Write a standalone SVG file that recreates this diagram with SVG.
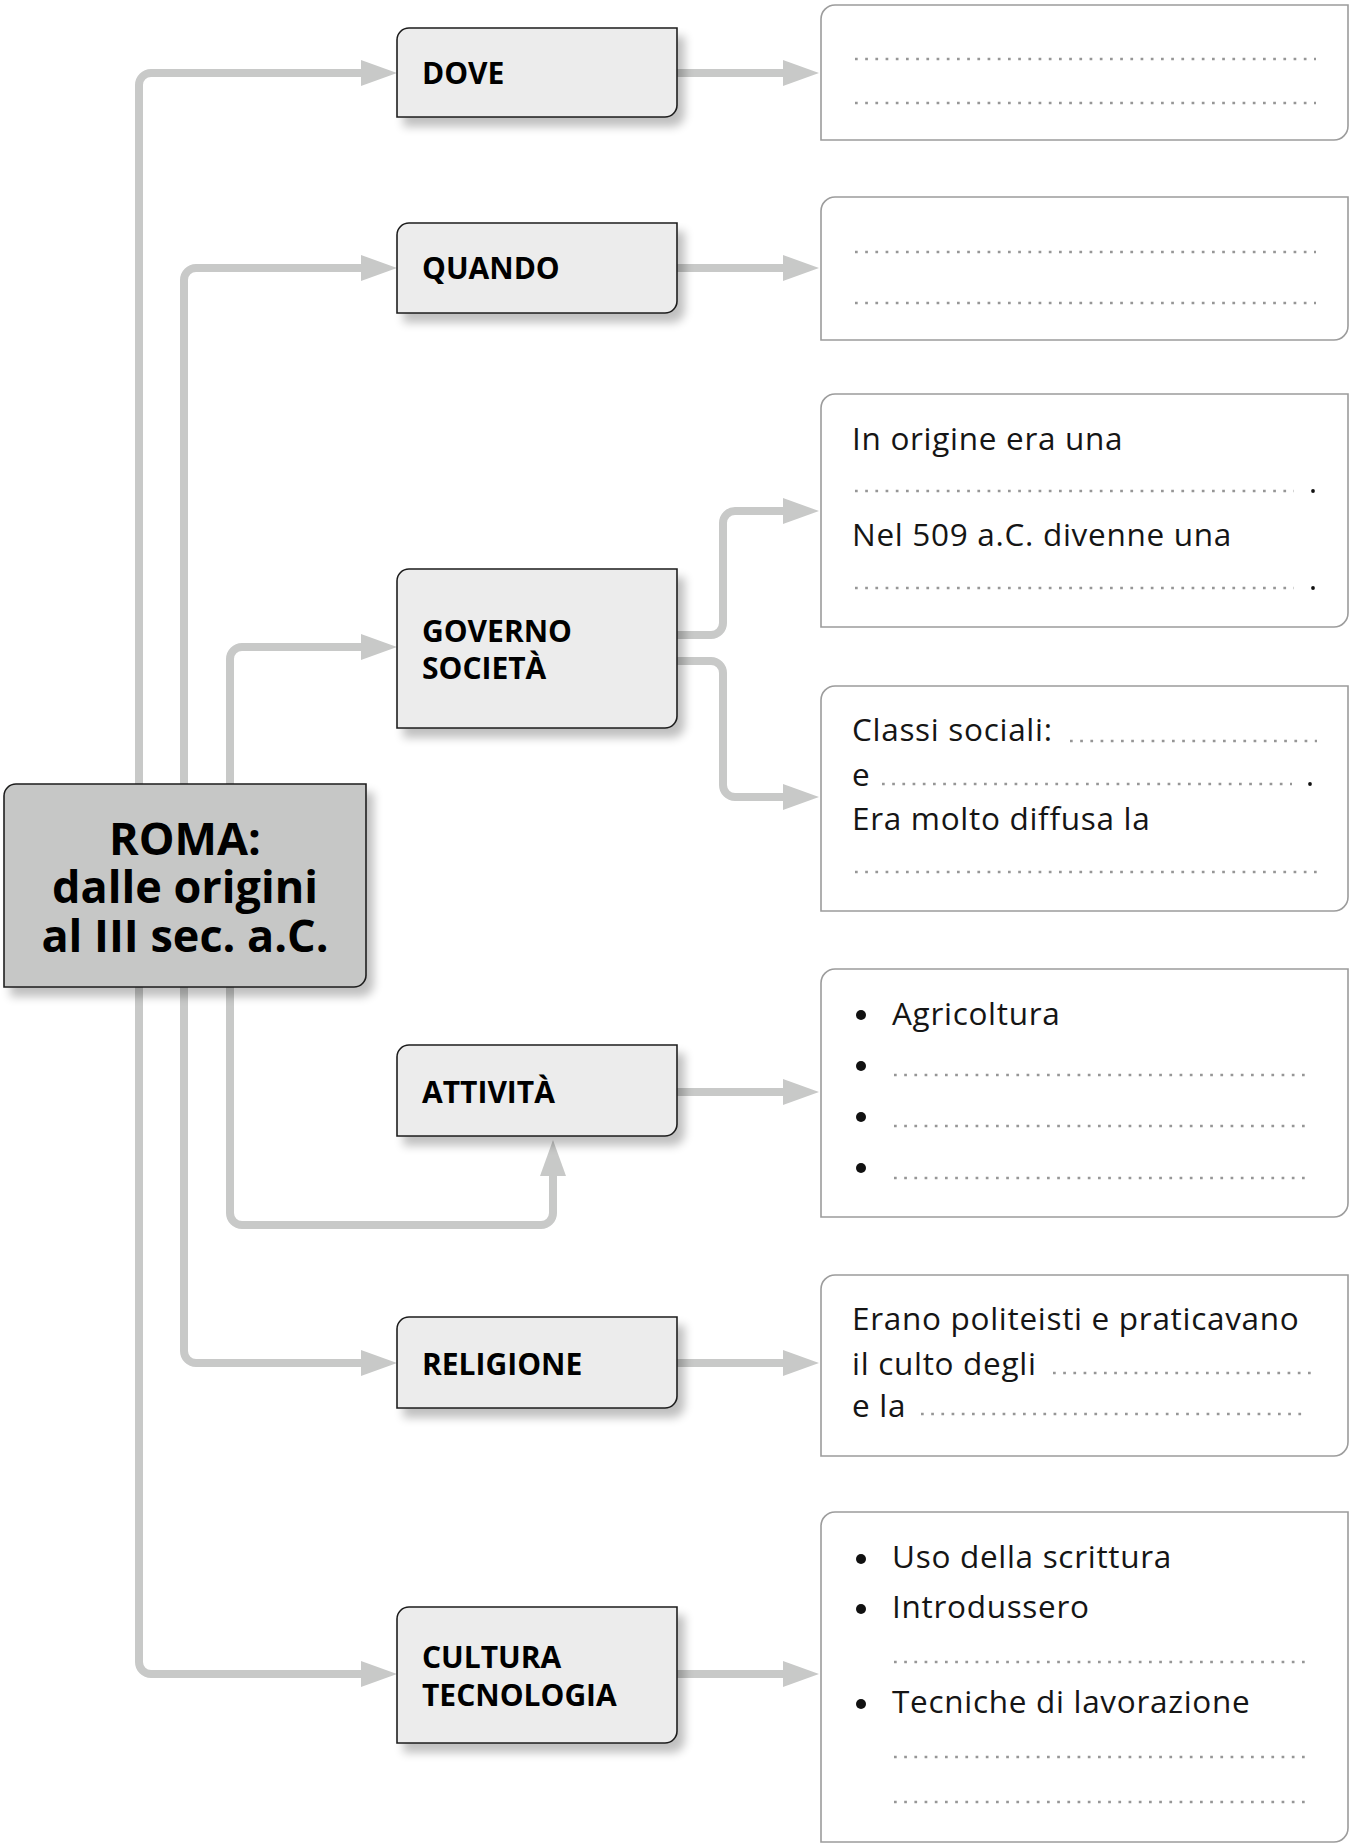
<svg xmlns="http://www.w3.org/2000/svg" width="1350" height="1843" viewBox="0 0 1350 1843">
  <defs>
    <filter id="drop" x="-10%" y="-10%" width="130%" height="140%">
      <feGaussianBlur in="SourceAlpha" stdDeviation="5"/>
      <feOffset dx="7" dy="9" result="b"/>
      <feComponentTransfer><feFuncA type="linear" slope="0.25"/></feComponentTransfer>
      <feMerge><feMergeNode/><feMergeNode in="SourceGraphic"/></feMerge>
    </filter>
    <polygon id="headR" points="0,-13 36,0 0,13"/>
    <polygon id="headU" points="-13,0 0,-36 13,0"/>
  </defs>
  <style>
    .wire { fill: none; stroke: #c8c9c8; stroke-width: 8; }
    .head { fill: #c8c9c8; }
    .topic { fill: #ececec; stroke: #1e1e1e; stroke-width: 1.6; }
    .root { fill: #c6c7c6; stroke: #1e1e1e; stroke-width: 1.6; }
    .panel { fill: #ffffff; stroke: #9c9c9c; stroke-width: 1.6; }
    .lbl { font-family: "Open Sans", "Liberation Sans", sans-serif; font-weight: 700; font-size: 30px; fill: #000; }
    .title { font-family: "Open Sans", "Liberation Sans", sans-serif; font-weight: 700; font-size: 45px; fill: #000; text-anchor: middle; }
    .txt { font-family: "Open Sans", "Liberation Sans", sans-serif; font-weight: 400; font-size: 31.5px; letter-spacing: 0.7px; fill: #151515; }
    .dots { fill: none; stroke: #969696; stroke-width: 2.7; stroke-dasharray: 2.7 7.5; }
    .stop { fill: #111; }
    .bul { fill: #111; }
  </style>
  <rect width="1350" height="1843" fill="#ffffff"/>

  <!-- connectors -->
  <g id="connectors">
    <!-- trunk lines from the central box -->
    <path class="wire" d="M362,73 H151 A12,12 0 0 0 139,85 V1662 A12,12 0 0 0 151,1674 H362"/>
    <path class="wire" d="M362,268 H196 A12,12 0 0 0 184,280 V1351 A12,12 0 0 0 196,1363 H362"/>
    <path class="wire" d="M362,647 H242 A12,12 0 0 0 230,659 V1213 A12,12 0 0 0 242,1225 H541 A12,12 0 0 0 553,1213 V1175"/>
    <use href="#headR" class="head" x="361" y="73"/>
    <use href="#headR" class="head" x="361" y="268"/>
    <use href="#headR" class="head" x="361" y="647"/>
    <use href="#headR" class="head" x="361" y="1363"/>
    <use href="#headR" class="head" x="361" y="1674"/>
    <use href="#headU" class="head" x="553" y="1176"/>
    <!-- links to the answer panels -->
    <path class="wire" d="M670,73 H784"/>
    <path class="wire" d="M670,268 H784"/>
    <path class="wire" d="M670,635 H711 A12,12 0 0 0 723,623 V523 A12,12 0 0 1 735,511 H784"/>
    <path class="wire" d="M670,661 H711 A12,12 0 0 1 723,673 V785 A12,12 0 0 0 735,797 H784"/>
    <path class="wire" d="M670,1092 H784"/>
    <path class="wire" d="M670,1363 H784"/>
    <path class="wire" d="M670,1674 H784"/>
    <use href="#headR" class="head" x="783" y="73"/>
    <use href="#headR" class="head" x="783" y="268"/>
    <use href="#headR" class="head" x="783" y="511"/>
    <use href="#headR" class="head" x="783" y="797"/>
    <use href="#headR" class="head" x="783" y="1092"/>
    <use href="#headR" class="head" x="783" y="1363"/>
    <use href="#headR" class="head" x="783" y="1674"/>
  </g>

  <!-- central box -->
  <g id="roma">
    <path class="root" filter="url(#drop)" d="M4,796 A12,12 0 0 1 16,784 H366 V975 A12,12 0 0 1 354,987 H4 Z"/>
    <text class="title" x="185" y="855">ROMA:</text>
    <text class="title" x="185" y="903">dalle origini</text>
    <text class="title" x="185" y="952">al III sec. a.C.</text>
  </g>

  <!-- topic boxes -->
  <g id="dove">
    <path class="topic" filter="url(#drop)" d="M397,40 A12,12 0 0 1 409,28 H677 V105 A12,12 0 0 1 665,117 H397 Z"/>
    <text class="lbl" x="422" y="84">DOVE</text>
  </g>
  <g id="quando">
    <path class="topic" filter="url(#drop)" d="M397,235 A12,12 0 0 1 409,223 H677 V301 A12,12 0 0 1 665,313 H397 Z"/>
    <text class="lbl" x="422" y="279">QUANDO</text>
  </g>
  <g id="governo">
    <path class="topic" filter="url(#drop)" d="M397,581 A12,12 0 0 1 409,569 H677 V716 A12,12 0 0 1 665,728 H397 Z"/>
    <text class="lbl" x="422" y="642">GOVERNO</text>
    <text class="lbl" x="422" y="679">SOCIETÀ</text>
  </g>
  <g id="attivita">
    <path class="topic" filter="url(#drop)" d="M397,1057 A12,12 0 0 1 409,1045 H677 V1124 A12,12 0 0 1 665,1136 H397 Z"/>
    <text class="lbl" x="422" y="1103">ATTIVITÀ</text>
  </g>
  <g id="religione">
    <path class="topic" filter="url(#drop)" d="M397,1329 A12,12 0 0 1 409,1317 H677 V1396 A12,12 0 0 1 665,1408 H397 Z"/>
    <text class="lbl" x="422" y="1375">RELIGIONE</text>
  </g>
  <g id="cultura">
    <path class="topic" filter="url(#drop)" d="M397,1619 A12,12 0 0 1 409,1607 H677 V1731 A12,12 0 0 1 665,1743 H397 Z"/>
    <text class="lbl" x="422" y="1668">CULTURA</text>
    <text class="lbl" x="422" y="1706">TECNOLOGIA</text>
  </g>

  <!-- answer panels -->
  <g id="panel-dove">
    <path class="panel" d="M821,19 A14,14 0 0 1 835,5 H1348 V126 A14,14 0 0 1 1334,140 H821 Z"/>
    <line class="dots" x1="855" y1="59" x2="1316" y2="59"/>
    <line class="dots" x1="855" y1="103" x2="1316" y2="103"/>
  </g>
  <g id="panel-quando">
    <path class="panel" d="M821,211 A14,14 0 0 1 835,197 H1348 V326 A14,14 0 0 1 1334,340 H821 Z"/>
    <line class="dots" x1="855" y1="252" x2="1316" y2="252"/>
    <line class="dots" x1="855" y1="303" x2="1316" y2="303"/>
  </g>
  <g id="panel-governo">
    <path class="panel" d="M821,408 A14,14 0 0 1 835,394 H1348 V613 A14,14 0 0 1 1334,627 H821 Z"/>
    <text class="txt" x="852" y="450">In origine era una</text>
    <line class="dots" x1="855" y1="491" x2="1294" y2="491"/>
    <circle class="stop" cx="1313" cy="491" r="1.9"/>
    <text class="txt" x="852" y="546">Nel 509 a.C. divenne una</text>
    <line class="dots" x1="855" y1="588" x2="1294" y2="588"/>
    <circle class="stop" cx="1313" cy="588" r="1.9"/>
  </g>
  <g id="panel-societa">
    <path class="panel" d="M821,700 A14,14 0 0 1 835,686 H1348 V897 A14,14 0 0 1 1334,911 H821 Z"/>
    <text class="txt" x="852" y="741">Classi sociali:</text>
    <line class="dots" x1="1070" y1="741" x2="1317" y2="741"/>
    <text class="txt" x="852" y="786">e</text>
    <line class="dots" x1="882" y1="784" x2="1292" y2="784"/>
    <circle class="stop" cx="1310" cy="784" r="1.9"/>
    <text class="txt" x="852" y="830">Era molto diffusa la</text>
    <line class="dots" x1="855" y1="872" x2="1317" y2="872"/>
  </g>
  <g id="panel-attivita">
    <path class="panel" d="M821,983 A14,14 0 0 1 835,969 H1348 V1203 A14,14 0 0 1 1334,1217 H821 Z"/>
    <circle class="bul" cx="861" cy="1015" r="5"/>
    <text class="txt" x="892" y="1025">Agricoltura</text>
    <circle class="bul" cx="861" cy="1066" r="5"/>
    <line class="dots" x1="894" y1="1075" x2="1312" y2="1075"/>
    <circle class="bul" cx="861" cy="1117" r="5"/>
    <line class="dots" x1="894" y1="1126" x2="1312" y2="1126"/>
    <circle class="bul" cx="861" cy="1168" r="5"/>
    <line class="dots" x1="894" y1="1178" x2="1312" y2="1178"/>
  </g>
  <g id="panel-religione">
    <path class="panel" d="M821,1289 A14,14 0 0 1 835,1275 H1348 V1442 A14,14 0 0 1 1334,1456 H821 Z"/>
    <text class="txt" x="852" y="1330">Erano politeisti e praticavano</text>
    <text class="txt" x="852" y="1375">il culto degli</text>
    <line class="dots" x1="1053" y1="1373" x2="1312" y2="1373"/>
    <text class="txt" x="852" y="1417">e la</text>
    <line class="dots" x1="921" y1="1414" x2="1308" y2="1414"/>
  </g>
  <g id="panel-cultura">
    <path class="panel" d="M821,1526 A14,14 0 0 1 835,1512 H1348 V1828 A14,14 0 0 1 1334,1842 H821 Z"/>
    <circle class="bul" cx="861" cy="1559" r="5"/>
    <text class="txt" x="892" y="1568">Uso della scrittura</text>
    <circle class="bul" cx="861" cy="1609" r="5"/>
    <text class="txt" x="892" y="1618">Introdussero</text>
    <line class="dots" x1="894" y1="1662" x2="1312" y2="1662"/>
    <circle class="bul" cx="861" cy="1704" r="5"/>
    <text class="txt" x="892" y="1713">Tecniche di lavorazione</text>
    <line class="dots" x1="894" y1="1757" x2="1312" y2="1757"/>
    <line class="dots" x1="894" y1="1802" x2="1312" y2="1802"/>
  </g>
</svg>
